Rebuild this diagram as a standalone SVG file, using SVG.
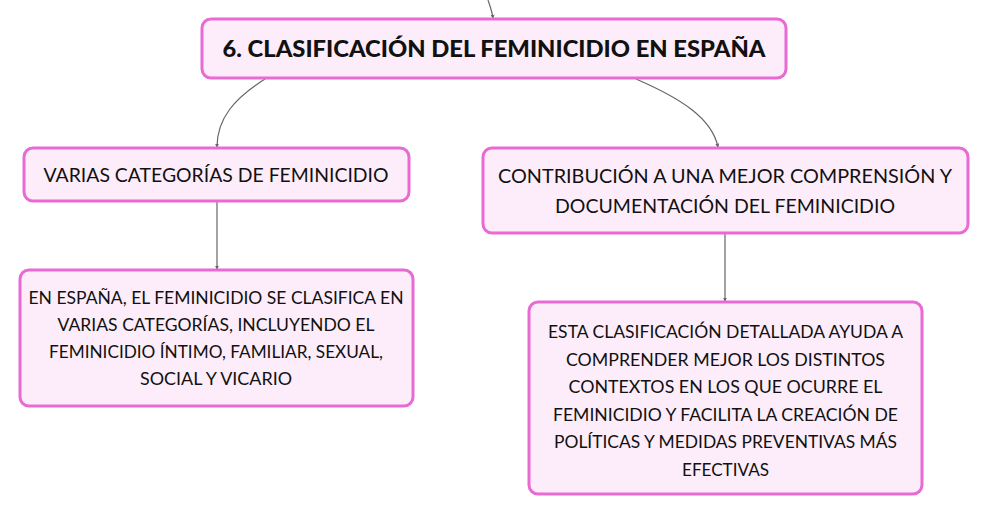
<svg xmlns="http://www.w3.org/2000/svg" width="988" height="514" viewBox="0 0 988 514">
<defs>
<marker id="arr" viewBox="0 0 6 6" refX="5" refY="3" markerWidth="4" markerHeight="4" orient="auto" markerUnits="userSpaceOnUse">
<path d="M0,0 L6,3 L0,6 Z" fill="#666"/>
</marker>
<style>
.box{fill:#fdedfa;stroke:#e86ad3;stroke-width:3}
.t{font-family:Lato,"Open Sans","DejaVu Sans",sans-serif;fill:#111111;text-anchor:middle}
.t1{font-size:22.5px;font-weight:900}
.t2{font-size:19.5px}
.t3{font-size:17.5px}
.c{fill:none;stroke:#666;stroke-width:1.2}
</style>
</defs>
<rect width="988" height="514" fill="#ffffff"/>
<g id="connectors">
<path class="c" d="M488,0 C490,6 492,11 493,18" marker-end="url(#arr)"/>
<path class="c" d="M265,79 C235,98 217,118 217,147" marker-end="url(#arr)"/>
<path class="c" d="M636,79 C680,98 712,118 718,147" marker-end="url(#arr)"/>
<path class="c" d="M217,202 L217,269" marker-end="url(#arr)"/>
<path class="c" d="M725,234 L725,301" marker-end="url(#arr)"/>
</g>
<g id="node-title">
<rect class="box" x="202" y="19" width="584" height="59" rx="9"/>
<text class="t t1" x="494" y="56.5" textLength="543" lengthAdjust="spacingAndGlyphs">6. CLASIFICACIÓN DEL FEMINICIDIO EN ESPAÑA</text>
</g>
<g id="node-categorias">
<rect class="box" x="24" y="148" width="385" height="53" rx="9"/>
<text class="t t2" x="216" y="182" textLength="345" lengthAdjust="spacingAndGlyphs">VARIAS CATEGORÍAS DE FEMINICIDIO</text>
</g>
<g id="node-contribucion">
<rect class="box" x="483" y="148" width="485" height="85" rx="9"/>
<text class="t t2" x="725" y="183" textLength="454" lengthAdjust="spacingAndGlyphs">CONTRIBUCIÓN A UNA MEJOR COMPRENSIÓN Y</text>
<text class="t t2" x="725" y="213" textLength="340" lengthAdjust="spacingAndGlyphs">DOCUMENTACIÓN DEL FEMINICIDIO</text>
</g>
<g id="node-espana">
<rect class="box" x="20" y="270" width="393" height="136" rx="9"/>
<text class="t t3" x="216" y="304" textLength="375" lengthAdjust="spacingAndGlyphs">EN ESPAÑA, EL FEMINICIDIO SE CLASIFICA EN</text>
<text class="t t3" x="216" y="331" textLength="317" lengthAdjust="spacingAndGlyphs">VARIAS CATEGORÍAS, INCLUYENDO EL</text>
<text class="t t3" x="216" y="358" textLength="334" lengthAdjust="spacingAndGlyphs">FEMINICIDIO ÍNTIMO, FAMILIAR, SEXUAL,</text>
<text class="t t3" x="216" y="385" textLength="152" lengthAdjust="spacingAndGlyphs">SOCIAL Y VICARIO</text>
</g>
<g id="node-clasificacion">
<rect class="box" x="529" y="302" width="393" height="192" rx="9"/>
<text class="t t3" x="725.5" y="338" textLength="355" lengthAdjust="spacingAndGlyphs">ESTA CLASIFICACIÓN DETALLADA AYUDA A</text>
<text class="t t3" x="725.5" y="365.5" textLength="319" lengthAdjust="spacingAndGlyphs">COMPRENDER MEJOR LOS DISTINTOS</text>
<text class="t t3" x="725.5" y="393" textLength="314" lengthAdjust="spacingAndGlyphs">CONTEXTOS EN LOS QUE OCURRE EL</text>
<text class="t t3" x="725.5" y="420.5" textLength="345" lengthAdjust="spacingAndGlyphs">FEMINICIDIO Y FACILITA LA CREACIÓN DE</text>
<text class="t t3" x="725.5" y="448" textLength="343" lengthAdjust="spacingAndGlyphs">POLÍTICAS Y MEDIDAS PREVENTIVAS MÁS</text>
<text class="t t3" x="725.5" y="475.5" textLength="87" lengthAdjust="spacingAndGlyphs">EFECTIVAS</text>
</g>
</svg>
